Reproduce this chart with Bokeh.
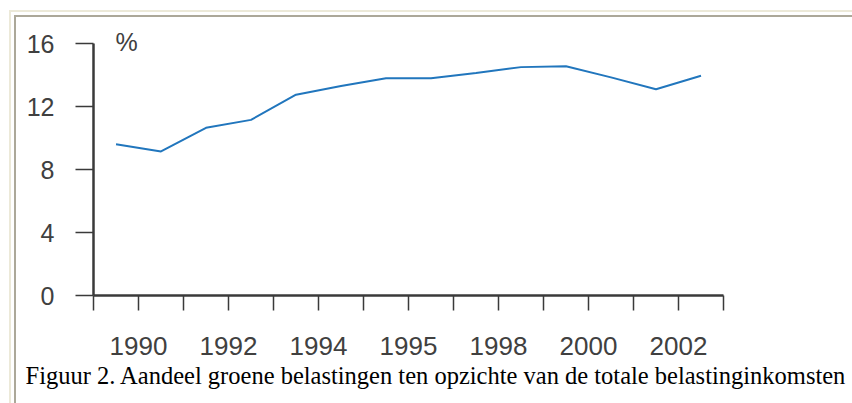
from bokeh.plotting import figure
from bokeh.models import FixedTicker, Label, Range1d, Title
from bokeh.embed import file_html
from bokeh.resources import INLINE

# ---- data ----
years = [1989, 1990, 1991, 1992, 1993, 1994, 1995, 1996, 1997, 1998, 1999, 2000, 2001, 2002]
share = [9.6, 9.15, 10.65, 11.15, 12.75, 13.3, 13.8, 13.8, 14.12, 14.5, 14.55, 13.85, 13.1, 13.95]
tick_years = [1990, 1992, 1994, 1996, 1998, 2000, 2002]
tick_labels = ["1990", "1992", "1994", "1995", "1998", "2000", "2002"]
y_ticks = [0, 4, 8, 12, 16]
caption = "Figuur 2. Aandeel groene belastingen ten opzichte van de totale belastinginkomsten"
unit_label = "%"

x_start, x_end = years[0], years[-1] + 1
y_start, y_axis_end = 0, 16
frame_h = 295            # plot area height in px (axis top at 43 px from top)
y_top = y_axis_end * frame_h / (frame_h - 43)   # extra headroom so "%" is not clipped

p = figure(width=852, height=403, output_backend="svg", toolbar_location=None,
           x_range=Range1d(x_start, x_end), y_range=Range1d(y_start, y_top),
           min_border_left=93, min_border_right=129, min_border_top=0, min_border_bottom=108)

p.xgrid.visible = False
p.ygrid.visible = False
p.outline_line_color = None
p.background_fill_alpha = 0
p.border_fill_alpha = 0
# window-style inset frame (drawn by the page behind the transparent canvas)
p.styles = {
    "background-color": "white",
    "box-shadow": ("inset 9px 10px 0 0 white, inset 11px 12px 0 0 #ece9d8, "
                   "inset 14px 15px 0 0 white, inset 16px 17px 0 0 #aca899"),
}

axis_color = "#3a3a3a"
label_color = "#404040"
sans = "Liberation Sans"

for ax in (p.xaxis[0], p.yaxis[0]):
    ax.axis_line_color = axis_color
    ax.axis_line_width = 2.5
    ax.major_tick_line_color = axis_color
    ax.major_tick_line_width = 1.5
    ax.minor_tick_line_color = None
    ax.major_tick_in = 0
    ax.major_label_text_font = sans
    ax.major_label_text_color = label_color

p.xaxis.ticker = FixedTicker(ticks=list(range(x_start, x_end + 1)))
overrides = {y: "" for y in range(x_start, x_end + 1)}
for y, t in zip(tick_years, tick_labels):
    overrides[y] = t
p.xaxis.major_label_overrides = overrides
p.xaxis.major_tick_out = 15
p.xaxis.major_label_standoff = 26
p.xaxis.major_label_text_font_size = "26px"

p.yaxis.ticker = FixedTicker(ticks=y_ticks)
p.yaxis.bounds = (y_start, y_axis_end)
p.yaxis.major_tick_out = 18
p.yaxis.major_label_standoff = 21
p.yaxis.major_label_text_font_size = "25px"

xs = [y + 0.5 for y in years]
p.line(xs, share, line_color="#2176bd", line_width=2)

p.add_layout(Label(x=x_start + 0.49, y=16.1, text=unit_label, text_font=sans,
                   text_font_size="25px", text_color=label_color, text_baseline="middle"))

p.add_layout(Title(text=caption, align="left", offset=-68, standoff=4,
                   text_font="Liberation Serif", text_font_size="24.5px",
                   text_font_style="normal", text_color="black"), "below")

open("out.html", "w").write(file_html(p, INLINE))
